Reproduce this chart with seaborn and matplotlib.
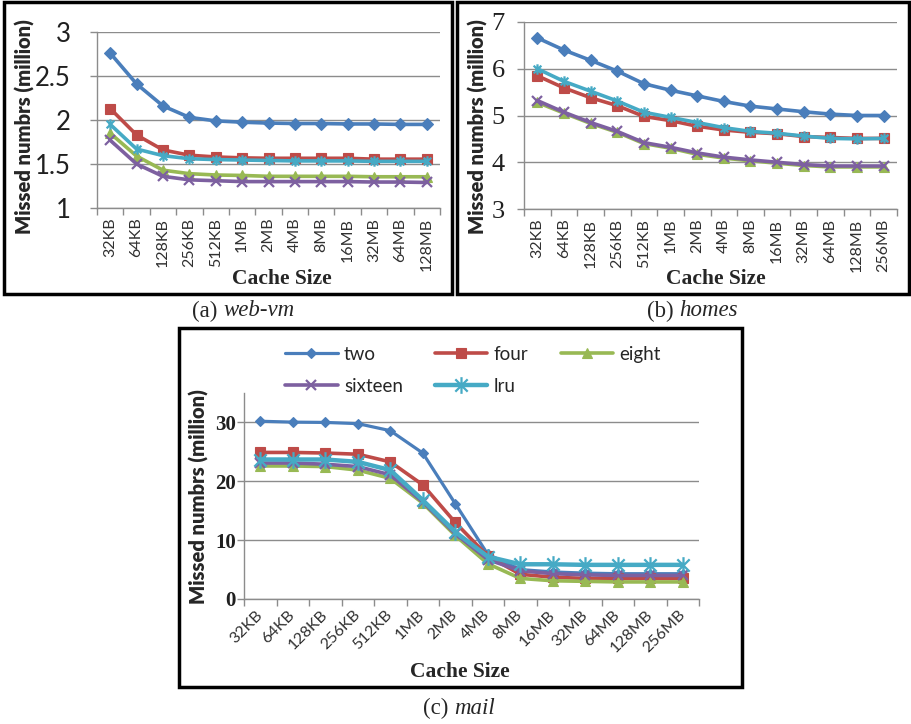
import numpy as np
import pandas as pd
import matplotlib
matplotlib.use("Agg")
import matplotlib.pyplot as plt
from matplotlib.patches import Rectangle
from matplotlib.path import Path
from matplotlib.ticker import FixedLocator, FormatStrFormatter
import seaborn as sns

# ---------------- data ----------------
cats_a = ['32KB', '64KB', '128KB', '256KB', '512KB', '1MB', '2MB', '4MB',
          '8MB', '16MB', '32MB', '64MB', '128MB']
cats_bc = cats_a + ['256MB']
series_names = ['two', 'four', 'eight', 'sixteen', 'lru']

# (a) web-vm
two_a = [2.76, 2.41, 2.16, 2.03, 1.99, 1.975, 1.965, 1.96, 1.96, 1.955, 1.955, 1.95, 1.95]
four_a = [2.13, 1.83, 1.66, 1.60, 1.58, 1.57, 1.565, 1.565, 1.565, 1.565, 1.555, 1.555, 1.555]
eight_a = [1.85, 1.59, 1.43, 1.39, 1.375, 1.37, 1.36, 1.36, 1.36, 1.36, 1.355, 1.355, 1.355]
sixteen_a = [1.77, 1.50, 1.36, 1.32, 1.31, 1.30, 1.30, 1.30, 1.30, 1.30, 1.295, 1.295, 1.29]
lru_a = [1.95, 1.67, 1.595, 1.56, 1.55, 1.545, 1.54, 1.535, 1.535, 1.535, 1.53, 1.53, 1.53]

# (b) homes
two_b = [6.66, 6.40, 6.18, 5.95, 5.68, 5.54, 5.42, 5.30, 5.20, 5.14, 5.08, 5.03, 5.00, 5.00]
four_b = [5.85, 5.59, 5.38, 5.21, 4.98, 4.89, 4.77, 4.69, 4.64, 4.61, 4.55, 4.53, 4.51, 4.51]
eight_b = [5.28, 5.05, 4.83, 4.64, 4.40, 4.30, 4.17, 4.09, 4.03, 3.98, 3.93, 3.90, 3.90, 3.90]
sixteen_b = [5.32, 5.07, 4.85, 4.66, 4.42, 4.32, 4.20, 4.11, 4.05, 4.00, 3.95, 3.92, 3.92, 3.92]
lru_b = [6.00, 5.73, 5.52, 5.31, 5.07, 4.96, 4.85, 4.74, 4.66, 4.62, 4.56, 4.51, 4.50, 4.51]

# (c) mail
two_c = [30.2, 30.05, 30.0, 29.8, 28.6, 24.8, 16.2, 7.6, 5.0, 4.6, 4.4, 4.3, 4.3, 4.3]
four_c = [24.9, 24.9, 24.8, 24.6, 23.3, 19.4, 13.0, 7.3, 4.2, 3.7, 3.5, 3.5, 3.5, 3.5]
eight_c = [22.6, 22.6, 22.5, 21.9, 20.5, 16.3, 10.8, 6.0, 3.5, 3.1, 3.0, 2.9, 2.9, 2.9]
sixteen_c = [23.1, 23.1, 22.9, 22.5, 21.1, 16.5, 11.1, 6.7, 4.8, 4.3, 4.1, 4.0, 4.0, 4.0]
lru_c = [23.7, 23.7, 23.7, 23.3, 21.9, 16.8, 11.4, 7.2, 5.9, 5.9, 5.8, 5.8, 5.8, 5.8]

yticks_a = [1, 1.5, 2, 2.5, 3]
yticks_b = [3, 4, 5, 6, 7]
yticks_c = [0, 10, 20, 30]

# ---------------- style ----------------
sns.set_style("white")
plt.rcParams['font.family'] = ['Lato', 'DejaVu Sans']

W, H = 911, 724
fig = plt.figure(figsize=(W / 100, H / 100), dpi=100)

colors = {'two': '#4A7EBB', 'four': '#BE4B48', 'eight': '#98B954',
          'sixteen': '#7D60A0', 'lru': '#46AAC5'}
star = Path([(-1, -1), (1, 1), (-1, 1), (1, -1), (0, -1.35), (0, 1.35)],
            [Path.MOVETO, Path.LINETO, Path.MOVETO, Path.LINETO, Path.MOVETO, Path.LINETO])
markers = {'two': 'D', 'four': 's', 'eight': '^', 'sixteen': 'x', 'lru': star}


def fx(px):
    return px / W


def fy(py):
    return 1 - py / H


def make_axes(rect_px):
    x0, y0, x1, y1 = rect_px
    return fig.add_axes([fx(x0), fy(y1), (x1 - x0) / W, (y1 - y0) / H])


def draw(ax, cats, data, ylim, yticks, msizes, lws, ytick_font, ytick_size,
         ytick_pad, xrot, xlabel_pos, ylabel_pos):
    for name, vals in zip(series_names, data):
        df = pd.DataFrame({'cache': cats, 'miss': vals})
        sns.lineplot(data=df, x='cache', y='miss', ax=ax, sort=False,
                     color=colors[name], marker=markers[name],
                     markersize=msizes[name], linewidth=lws[name],
                     markeredgecolor=colors[name],
                     markeredgewidth=1.6 if name in ('sixteen', 'lru') else 0.8,
                     label=name)
    if ax.get_legend() is not None:
        ax.get_legend().remove()
    n = len(cats)
    ax.set_xlim(-0.5, n - 0.5)
    ax.set_ylim(*ylim)
    ax.yaxis.set_major_locator(FixedLocator(yticks))
    ax.yaxis.set_major_formatter(FormatStrFormatter('%g'))
    ax.grid(axis='y', color='#8C8C8C', linewidth=1.0)
    ax.grid(axis='x', visible=False)
    ax.set_axisbelow(True)
    for s in ('top', 'right'):
        ax.spines[s].set_visible(False)
    for s in ('left', 'bottom'):
        ax.spines[s].set_color('#8C8C8C')
        ax.spines[s].set_linewidth(1.0)
    # category boundaries as minor ticks
    ax.set_xticks(np.arange(n))
    ax.set_xticks(np.arange(n + 1) - 0.5, minor=True)
    ax.tick_params(axis='x', which='major', length=0, pad=7, labelsize=11.5,
                   labelcolor='#303030')
    ax.tick_params(axis='x', which='minor', length=5, width=1, color='#8C8C8C',
                   direction='out', bottom=True)
    ax.tick_params(axis='y', which='major', length=5, width=1, color='#8C8C8C',
                   direction='out', left=True, pad=ytick_pad)
    for lab in ax.get_yticklabels():
        lab.set_family(ytick_font)
        lab.set_fontsize(ytick_size)
        lab.set_color('#202020')
    if xrot == 90:
        for lab in ax.get_xticklabels():
            lab.set_rotation(90)
            lab.set_ha('center')
            lab.set_va('top')
    else:
        for lab in ax.get_xticklabels():
            lab.set_rotation(45)
            lab.set_ha('right')
            lab.set_va('center')
            lab.set_rotation_mode('anchor')
        ax.tick_params(axis='x', which='major', pad=10)
    ax.set_xlabel('Cache Size', family='Liberation Serif', fontweight='bold',
                  fontsize=15.5)
    ax.xaxis.set_label_coords(fx(xlabel_pos[0]), fy(xlabel_pos[1]),
                              transform=fig.transFigure)
    ax.xaxis.label.set_va('center')
    ax.set_ylabel('Missed numbrs (million)', fontweight='heavy', fontsize=14.5)
    ax.yaxis.set_label_coords(fx(ylabel_pos[0]), fy(ylabel_pos[1]),
                              transform=fig.transFigure)
    ax.yaxis.label.set_va('center')


ms_std = {'two': 6.5, 'four': 7.5, 'eight': 7.5, 'sixteen': 6.5, 'lru': 7.5}
lw_std = {'two': 2.6, 'four': 2.6, 'eight': 2.6, 'sixteen': 2.6, 'lru': 2.6}

ax_a = make_axes((97, 32, 440, 208))
draw(ax_a, cats_a, [two_a, four_a, eight_a, sixteen_a, lru_a], (1, 3), yticks_a,
     ms_std, lw_std, 'Lato', 18.5, 14, 90, (282, 279), (25, 127))

ax_b = make_axes((524, 22, 897, 209))
draw(ax_b, cats_bc, [two_b, four_b, eight_b, sixteen_b, lru_b], (3, 7), yticks_b,
     ms_std, lw_std, 'Liberation Serif', 19, 9, 90, (716, 279), (478, 127))

ms_c = {'two': 5.5, 'four': 7.5, 'eight': 7.5, 'sixteen': 6.5, 'lru': 12}
lw_c = {'two': 2.3, 'four': 2.6, 'eight': 2.6, 'sixteen': 2.6, 'lru': 3.2}
ax_c = make_axes((244, 393, 699, 599))
draw(ax_c, cats_bc, [two_c, four_c, eight_c, sixteen_c, lru_c], (0, 35), yticks_c,
     ms_c, lw_c, 'Liberation Serif', 15, 1, 45, (460, 672), (199, 497))
for lab in ax_c.get_yticklabels():
    lab.set_fontweight('bold')

# legend for (c): row-wise order two, four, eight / sixteen, lru
handles, labels = ax_c.get_legend_handles_labels()
hmap = dict(zip(labels, handles))
order = ['two', 'sixteen', 'four', 'lru', 'eight']
leg = ax_c.legend([hmap[k] for k in order], order, ncol=3, loc='upper left',
                  bbox_to_anchor=(fx(285), fy(346)), bbox_transform=fig.transFigure,
                  frameon=False, fontsize=13.5, handlelength=2.8, handletextpad=0.35,
                  columnspacing=1.7, labelspacing=0.8, borderpad=0, borderaxespad=0)

# panel boxes
for (x0, y0, x1, y1) in [(4, 2, 452, 294), (457, 2, 909, 294), (179, 328, 742, 687)]:
    fig.add_artist(Rectangle((fx(x0), fy(y1)), (x1 - x0) / W, (y1 - y0) / H,
                             transform=fig.transFigure, fill=False,
                             edgecolor='black', linewidth=2.5))

# captions
cap_kw = dict(family='Liberation Serif', fontsize=16.5, va='center',
              transform=fig.transFigure)
for split_x, cy, tag, name in [(223, 311, '(a) ', 'web-vm'),
                               (679, 311, '(b) ', 'homes'),
                               (454, 708, '(c) ', 'mail')]:
    fig.text(fx(split_x), fy(cy), tag, ha='right', **cap_kw)
    fig.text(fx(split_x), fy(cy), name, ha='left', style='italic', **cap_kw)

fig.savefig('out.png', dpi=100)
